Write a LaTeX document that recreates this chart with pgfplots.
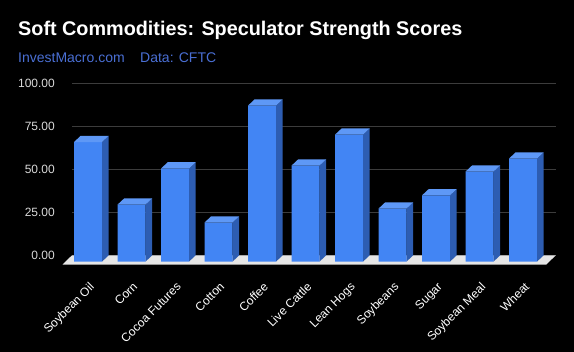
\documentclass[border=0pt]{standalone}
\usepackage{pgfplots}
\pgfplotsset{compat=1.18}
\usepackage{fontspec}
\setmainfont{Liberation Sans}
\definecolor{barfront}{HTML}{4285F4}
\definecolor{bartop}{HTML}{5E98F6}
\definecolor{barside}{HTML}{2D5DB2}
\definecolor{gridc}{HTML}{3C3C3C}
\definecolor{floorc}{HTML}{E6E6E6}
\definecolor{subc}{HTML}{4A6FD4}
\definecolor{tickc}{HTML}{D9D9D9}

\pgfdeclareplotmark{box3d}{%
  \pgfmathsetmacro\hh{\barv*1.72}%
  \pgfmathsetmacro\hb{\barv*1.72+6.3}%
  \pgfsetfillcolor{barside}%
  \pgfpathmoveto{\pgfpoint{7.3bp}{-6.3bp}}%
  \pgfpathlineto{\pgfpoint{14bp}{0bp}}%
  \pgfpathlineto{\pgfpoint{14bp}{-\hh bp}}%
  \pgfpathlineto{\pgfpoint{7.3bp}{-\hb bp}}%
  \pgfpathclose
  \pgfusepathqfill
  \pgfsetfillcolor{bartop}%
  \pgfpathmoveto{\pgfpoint{-20.7bp}{-6.3bp}}%
  \pgfpathlineto{\pgfpoint{7.3bp}{-6.3bp}}%
  \pgfpathlineto{\pgfpoint{14bp}{0bp}}%
  \pgfpathlineto{\pgfpoint{-14bp}{0bp}}%
  \pgfpathclose
  \pgfusepathqfill
}

\pgfplotstableread{
x v
0 69.5
1 33.1
2 54.1
3 22.7
4 90.7
5 55.8
6 73.8
7 30.8
8 38.5
9 52.3
10 59.9
}\datatable

\begin{document}
\begin{tikzpicture}
\fill[black] (-72bp,-96.7bp) rectangle (502bp,255.3bp);
\begin{axis}[
  at={(0,0)}, anchor=south west,
  x=43.5bp, y=1.72bp,
  xmin=-0.522, xmax=10.6, ymin=0, ymax=100,
  enlargelimits=false,
  clip=false,
  axis line style={draw=none},
  major tick length=0pt,
  ytick={0,25,50,75,100},
  ymajorgrids,
  grid style={gridc, line width=0.8bp},
  xtick={0,...,10},
  xticklabels={Soybean Oil,Corn,Cocoa Futures,Cotton,Coffee,Live Cattle,Lean Hogs,Soybeans,Sugar,Soybean Meal,Wheat},
  /pgf/number format/assume math mode=true,
  yticklabel style={font=\fontsize{12bp}{14bp}\selectfont, text=tickc, anchor=east, inner sep=0pt, xshift=-17bp,
    /pgf/number format/fixed, /pgf/number format/fixed zerofill, /pgf/number format/precision=2},
  xticklabel style={font=\fontsize{12bp}{14bp}\selectfont, text=white, inner sep=0pt, anchor=north east, xshift=-6bp, yshift=-26bp, rotate=45},
]
\addplot[fill=floorc, draw=none] coordinates {(-0.522,0) (10.6,0) (10.382,-5.35) (-0.74,-5.35)} -- cycle;
\addplot[ybar, bar width=28bp, bar shift=-6.7bp, fill=barfront, draw=none, yshift=-6.3bp] table[x=x, y=v] {\datatable};
\addplot[only marks, mark=box3d, visualization depends on={rawy \as \barv}] table[x=x, y=v] {\datatable};
\end{axis}
\node[anchor=base west, inner sep=0pt, text=white, font=\bfseries\fontsize{19.8bp}{24bp}\selectfont] at (-54bp,219.3bp) {Soft Commodities: Speculator Strength Scores};
\node[anchor=base west, inner sep=0pt, text=subc, font=\fontsize{14bp}{16bp}\selectfont] at (-54bp,193bp) {InvestMacro.com};
\node[anchor=base west, inner sep=0pt, text=subc, font=\fontsize{14bp}{16bp}\selectfont] at (68bp,193bp) {Data: CFTC};
\pgfresetboundingbox
\useasboundingbox (-72bp,-96.7bp) rectangle (502bp,255.3bp);
\end{tikzpicture}
\end{document}
